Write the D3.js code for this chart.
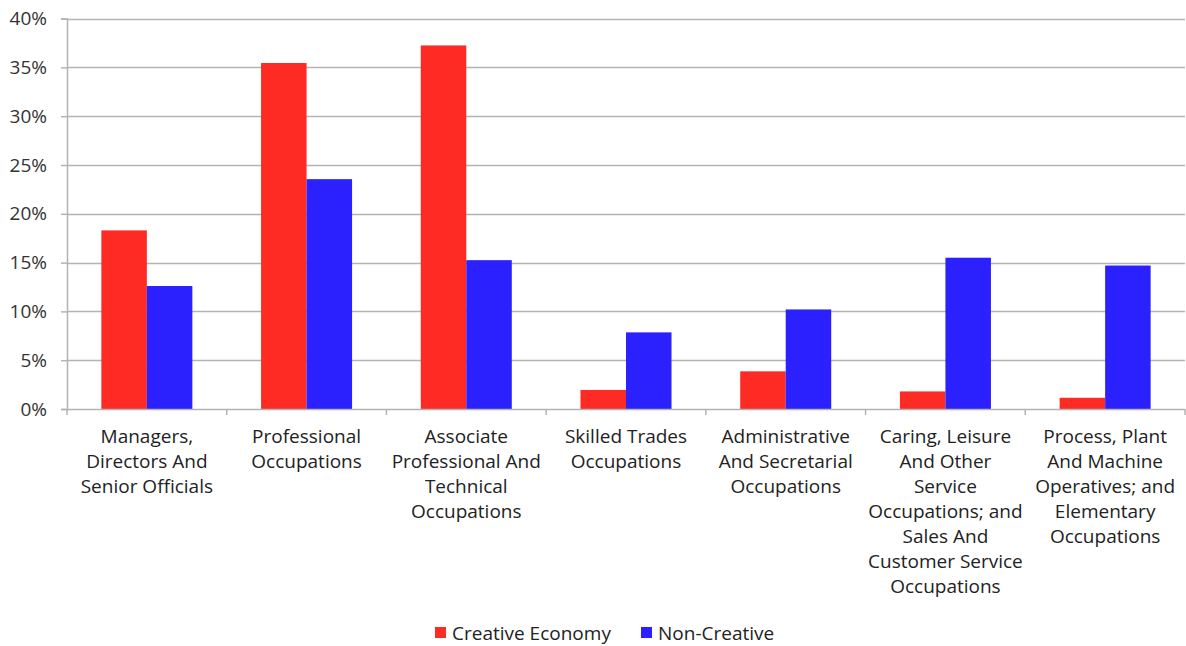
<!DOCTYPE html>
<html>
<head>
<meta charset="utf-8">
<script src="https://cdn.jsdelivr.net/npm/d3@7"></script>
<style>
html,body{margin:0;padding:0;background:#fff;}
svg{display:block;font-family:"Open Sans",sans-serif;}
</style>
</head>
<body>
<svg id="chart" width="1186" height="646"></svg>
<script>
const categories = [
  ["Managers,", "Directors And", "Senior Officials"],
  ["Professional", "Occupations"],
  ["Associate", "Professional And", "Technical", "Occupations"],
  ["Skilled Trades", "Occupations"],
  ["Administrative", "And Secretarial", "Occupations"],
  ["Caring, Leisure", "And Other", "Service", "Occupations; and", "Sales And", "Customer Service", "Occupations"],
  ["Process, Plant", "And Machine", "Operatives; and", "Elementary", "Occupations"]
];
const seriesNames = ["Creative Economy", "Non-Creative"];
const creative = [18.3, 35.45, 37.25, 1.95, 3.86, 1.8, 1.15];
const nonCreative = [12.6, 23.55, 15.25, 7.85, 10.2, 15.5, 14.7];
const yTicks = [0, 5, 10, 15, 20, 25, 30, 35, 40];
const colors = ["#FE2B24", "#2B20FE"];

const svg = d3.select("#chart");
const mLeft = 67, mRight = 1185, mTop = 18.6, mBottom = 409;

const x0 = d3.scaleBand().domain(d3.range(categories.length)).range([mLeft, mRight]).padding(0);
const x1 = d3.scaleBand().domain([0, 1]).range([0, x0.bandwidth()]).paddingInner(0).paddingOuter(0.755);
const y = d3.scaleLinear().domain([0, 40]).range([mBottom, mTop]);

// gridlines
svg.append("g").selectAll("line").data(yTicks.filter(d => d > 0)).join("line")
  .attr("x1", mLeft).attr("x2", mRight)
  .attr("y1", d => Math.round(y(d)) + 0.5).attr("y2", d => Math.round(y(d)) + 0.5)
  .attr("stroke", "#b3b3b3").attr("stroke-width", 1.5);

// y axis
const yAxis = svg.append("g").attr("transform", `translate(${mLeft},0)`)
  .call(d3.axisLeft(y).tickValues(yTicks).tickFormat(d => d + "%").tickSize(6).tickPadding(14));
yAxis.select(".domain").attr("stroke", "#b3b3b3").attr("stroke-width", 1.5);
yAxis.selectAll(".tick line").attr("stroke", "#b3b3b3").attr("stroke-width", 1.5);
yAxis.selectAll(".tick text").attr("fill", "#333").attr("font-size", 19).attr("font-family", "Open Sans");

// bars
const data = categories.map((c, i) => [creative[i], nonCreative[i]]);
const groups = svg.append("g").selectAll("g").data(data).join("g")
  .attr("transform", (d, i) => `translate(${x0(i)},0)`);
groups.selectAll("rect").data(d => d.map((v, j) => ({v, j}))).join("rect")
  .attr("x", d => x1(d.j)).attr("width", x1.bandwidth())
  .attr("y", d => y(d.v)).attr("height", d => y(0) - y(d.v))
  .attr("fill", d => colors[d.j]);

// x axis
const xAxisLine = svg.append("g");
xAxisLine.append("line").attr("x1", mLeft).attr("x2", mRight)
  .attr("y1", mBottom + 0.5).attr("y2", mBottom + 0.5)
  .attr("stroke", "#b3b3b3").attr("stroke-width", 1.5);
const boundaries = d3.range(categories.length + 1).map(i => i < categories.length ? x0(i) : mRight);
xAxisLine.selectAll(".xt").data(boundaries).join("line")
  .attr("x1", d => d).attr("x2", d => d).attr("y1", mBottom).attr("y2", mBottom + 6)
  .attr("stroke", "#b3b3b3").attr("stroke-width", 1.5);

// category labels
const labels = svg.append("g").selectAll("text").data(categories).join("text")
  .attr("x", (d, i) => x0(i) + x0.bandwidth() / 2)
  .attr("y", 443)
  .attr("text-anchor", "middle").attr("fill", "#222").attr("font-size", 19);
labels.selectAll("tspan").data((d, i) => d.map(t => ({t, i}))).join("tspan")
  .attr("x", d => x0(d.i) + x0.bandwidth() / 2)
  .attr("dy", (d, k) => k === 0 ? 0 : 25)
  .text(d => d.t);

// legend
const legendItems = [{x: 435, name: seriesNames[0], c: colors[0]}, {x: 641, name: seriesNames[1], c: colors[1]}];
const lg = svg.append("g").selectAll("g").data(legendItems).join("g")
  .attr("transform", d => `translate(${d.x},0)`);
lg.append("rect").attr("x", 0).attr("y", 627).attr("width", 11).attr("height", 11).attr("fill", d => d.c);
lg.append("text").attr("x", 17).attr("y", 640).attr("font-size", 19).attr("fill", "#222").text(d => d.name);
</script>
</body>
</html>
